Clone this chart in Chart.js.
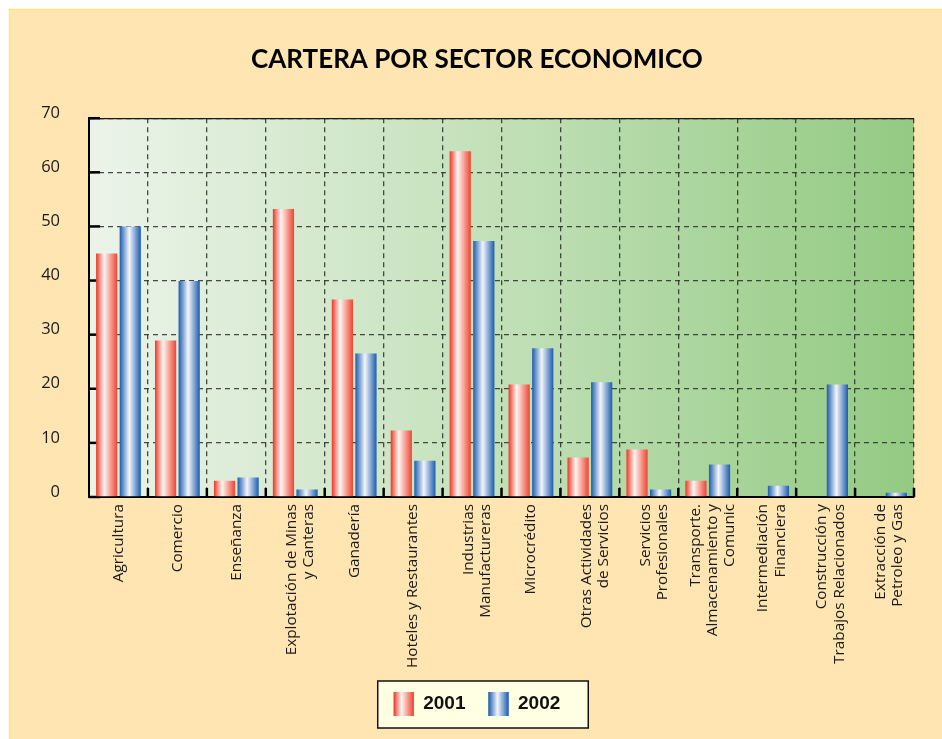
<!DOCTYPE html>
<html><head><meta charset="utf-8">
<script src="https://cdn.jsdelivr.net/npm/chart.js@4"></script>
<style>html,body{margin:0;padding:0;background:#fff;} canvas{display:block}</style>
</head><body>
<canvas id="c" width="942" height="739"></canvas>
<script>
const chartTitle = 'CARTERA POR SECTOR ECONOMICO';
const categories = [
  'Agricultura',
  'Comercio',
  'Enseñanza',
  ['Explotación de Minas', 'y Canteras'],
  'Ganadería',
  'Hoteles y Restaurantes',
  ['Industrias', 'Manufactureras'],
  'Microcrédito',
  ['Otras Actividades', 'de Servicios'],
  ['Servicios', 'Profesionales'],
  ['Transporte.', 'Almacenamiento y', 'Comunic'],
  ['Intermediación', 'Financiera'],
  ['Construcción y', 'Trabajos Relacionados'],
  ['Extracción de', 'Petroleo y Gas']
];
const seriesNames = ['2001', '2002'];
const values2001 = [45.0, 28.9, 3.0, 53.2, 36.5, 12.3, 63.9, 20.8, 7.3, 8.8, 3.0, 0, 0, 0];
const values2002 = [50.0, 39.9, 3.6, 1.4, 26.5, 6.7, 47.3, 27.5, 21.2, 1.4, 6.0, 2.1, 20.8, 0.8];
const yMin = 0, yMax = 70, yStep = 10;

const barStops = [
  [[0, '#EE3524'], [0.38, '#FFF6F2'], [1, '#EF4430']],
  [[0, '#1B5CAE'], [0.45, '#F3F5FB'], [1, '#1B5CAE']]
];
const solidColors = ['#EE3524', '#1B5CAE'];

function makeGrad(ctx, x0, w, stops) {
  const g = ctx.createLinearGradient(x0, 0, x0 + w, 0);
  stops.forEach(([o, c]) => g.addColorStop(o, c));
  return g;
}

const deco = {
  id: 'deco',
  beforeDraw(chart) {
    const {ctx, chartArea: a} = chart;
    ctx.save();
    ctx.fillStyle = '#fff';
    ctx.fillRect(0, 0, chart.width, chart.height);
    ctx.fillStyle = '#FFE5B2';
    ctx.fillRect(9, 9, chart.width - 9, chart.height - 9);
    ctx.strokeStyle = '#FFE57A';
    ctx.lineWidth = 1.5;
    ctx.beginPath();
    ctx.moveTo(9.5, chart.height); ctx.lineTo(9.5, 9.5); ctx.lineTo(chart.width, 9.5);
    ctx.stroke();
    const g = ctx.createLinearGradient(a.left, 0, a.right, 0);
    g.addColorStop(0, '#ECF4EA');
    g.addColorStop(0.5, '#C2E0B8');
    g.addColorStop(1, '#93CA82');
    ctx.fillStyle = g;
    ctx.fillRect(a.left, a.top, a.right - a.left, a.bottom - a.top);
    const lg = chart.legend;
    if (lg && lg.legendHitBoxes && lg.legendHitBoxes.length) {
      const hb = lg.legendHitBoxes;
      const f = hb[0], l = hb[hb.length - 1];
      const x0 = f.left - 16, x1 = l.left + l.width + 28;
      const y0 = f.top - 11, y1 = f.top + 24 + 12;
      ctx.fillStyle = '#FFFFE4';
      ctx.fillRect(x0, y0, x1 - x0, y1 - y0);
      ctx.strokeStyle = '#111';
      ctx.lineWidth = 1.5;
      ctx.strokeRect(x0, y0, x1 - x0, y1 - y0);
    }
    ctx.restore();
    // centre multi-line rotated labels on their category
    const xs = chart.scales.x;
    const items = xs.getLabelItems(a);
    items.forEach(it => {
      if (it._adj) return;
      const n = Array.isArray(it.label) ? it.label.length : 1;
      if (n > 1) it.textOffset += 5 - (n - 1) * it.font.lineHeight / 2;
      it._adj = true;
    });
  },
  beforeDatasetsDraw(chart) {
    const {ctx, chartArea: a, scales: {x, y}} = chart;
    ctx.save();
    ctx.strokeStyle = '#1a1a1a';
    ctx.lineWidth = 1.2;
    ctx.beginPath();
    ctx.moveTo(a.left, a.top + 0.5); ctx.lineTo(a.right, a.top + 0.5);
    ctx.stroke();
    ctx.strokeStyle = '#000';
    ctx.lineWidth = 2.5;
    y.ticks.forEach((t, i) => {
      const py = y.getPixelForTick(i);
      ctx.beginPath(); ctx.moveTo(a.left, py); ctx.lineTo(a.left + 11, py); ctx.stroke();
    });
    for (let i = 1; i <= categories.length; i++) {
      const px = x.getPixelForValue(i - 0.5);
      ctx.beginPath(); ctx.moveTo(px, a.bottom); ctx.lineTo(px, a.bottom - 9); ctx.stroke();
    }
    ctx.restore();
    chart.data.datasets.forEach((ds, di) => {
      const meta = chart.getDatasetMeta(di);
      meta.data.forEach(el => {
        const w = el.width, x0 = el.x - w / 2;
        el.options = Object.assign({}, el.options, {backgroundColor: makeGrad(ctx, x0, w, barStops[di])});
      });
    });
  },
  afterDraw(chart) {
    const lg = chart.legend;
    if (!lg || !lg.legendHitBoxes) return;
    const {ctx} = chart;
    lg.legendHitBoxes.forEach((hb, i) => {
      ctx.save();
      ctx.fillStyle = makeGrad(ctx, hb.left, 20, barStops[i]);
      ctx.fillRect(hb.left, hb.top, 20, 24);
      ctx.restore();
    });
  }
};

const gridCol = 'rgba(40,45,40,0.85)';

new Chart(document.getElementById('c'), {
  type: 'bar',
  data: {
    labels: categories,
    datasets: [
      {label: seriesNames[0], data: values2001, backgroundColor: solidColors[0], borderWidth: 0},
      {label: seriesNames[1], data: values2002, backgroundColor: solidColors[1], borderWidth: 0}
    ]
  },
  options: {
    responsive: false,
    animation: false,
    events: [],
    layout: {padding: {left: 40, right: 28, top: 0, bottom: 13}},
    datasets: {bar: {categoryPercentage: 0.8, barPercentage: 0.9}},
    plugins: {
      title: {
        display: true,
        text: chartTitle,
        color: '#000',
        font: {family: 'Lato', weight: 'bold', size: 26},
        padding: {top: 44, bottom: 43}
      },
      legend: {
        position: 'bottom',
        labels: {
          color: '#111',
          font: {family: 'Liberation Sans', weight: 'bold', size: 19},
          boxWidth: 20,
          boxHeight: 24,
          padding: 23
        }
      },
      tooltip: {enabled: false}
    },
    scales: {
      x: {
        grid: {color: gridCol, lineWidth: 1.3, drawTicks: false, offset: true},
        border: {display: true, color: '#000', width: 2, dash: [5, 4]},
        ticks: {
          autoSkip: false, maxRotation: 90, minRotation: 90, padding: 7,
          color: '#1a1a1a',
          font: {family: 'Open Sans', size: 15.3, lineHeight: 1.12}
        },
        afterFit(s) { s.height = 172; }
      },
      y: {
        min: yMin, max: yMax,
        grid: {color: gridCol, lineWidth: 1.3, drawTicks: false},
        border: {display: true, color: '#000', width: 2, dash: [5, 4]},
        ticks: {
          stepSize: yStep, padding: 29, labelOffset: -5,
          color: '#1a1a1a',
          font: {family: 'Open Sans', size: 16.5}
        },
        afterFit(s) { s.width = 49; }
      }
    }
  },
  plugins: [deco]
});
</script>
</body></html>
